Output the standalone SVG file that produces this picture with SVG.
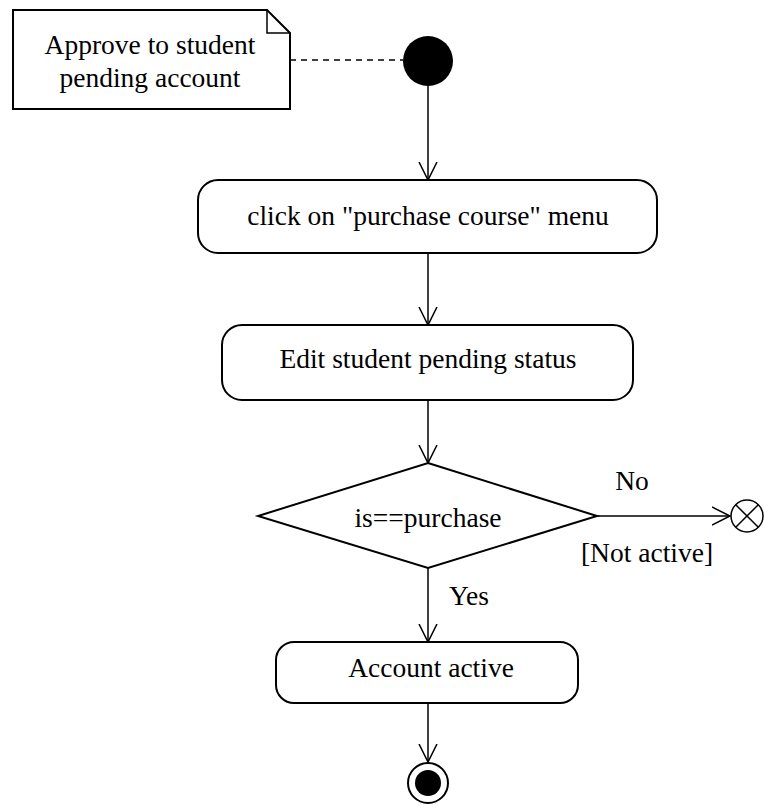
<svg xmlns="http://www.w3.org/2000/svg" width="764" height="806" viewBox="0 0 764 806">
<style>
.t{font-family:"Liberation Serif","Times New Roman",serif;font-size:27.5px;fill:#000;text-anchor:middle}
.box{fill:#fff;stroke:#000;stroke-width:2}
.ln{fill:none;stroke:#000;stroke-width:1.5}
</style>
<defs>
<marker id="open" viewBox="0 0 20 20" refX="18" refY="10" markerWidth="20" markerHeight="20" markerUnits="userSpaceOnUse" orient="auto">
<path d="M0,1 L18,10 L0,19" fill="none" stroke="#000" stroke-width="1.5"/>
</marker>
</defs>
<rect width="764" height="806" fill="#fff"/>
<g id="connectors">
<line class="ln" x1="290" y1="60" x2="403" y2="60" stroke-dasharray="6,5"/>
<line class="ln" x1="428" y1="86" x2="428" y2="180" marker-end="url(#open)"/>
<line class="ln" x1="428" y1="253" x2="428" y2="325" marker-end="url(#open)"/>
<line class="ln" x1="428" y1="400" x2="428" y2="463" marker-end="url(#open)"/>
<line class="ln" x1="597" y1="516" x2="730" y2="516" marker-end="url(#open)"/>
<line class="ln" x1="428" y1="568" x2="428" y2="642" marker-end="url(#open)"/>
<line class="ln" x1="428" y1="703" x2="428" y2="762" marker-end="url(#open)"/>
<text class="t" x="632" y="490">No</text>
<text class="t" x="647" y="562">[Not active]</text>
<text class="t" x="469" y="605">Yes</text>
</g>
<g id="note">
<path class="box" d="M13,10 L267,10 L290,33 L290,109 L13,109 Z"/>
<path class="ln" d="M267,10 L267,33 L290,33"/>
<text class="t" x="150" y="54">Approve to student</text>
<text class="t" x="150" y="87">pending account</text>
</g>
<g id="start">
<circle cx="428" cy="61" r="25" fill="#000"/>
</g>
<g id="click">
<rect class="box" x="198" y="180" width="459" height="73" rx="20"/>
<text class="t" x="428" y="225">click on "purchase course" menu</text>
</g>
<g id="edit">
<rect class="box" x="222" y="325" width="411" height="75" rx="20"/>
<text class="t" x="428" y="368">Edit student pending status</text>
</g>
<g id="decision">
<polygon class="box" points="428,463 597,516 428,568 258,516"/>
<text class="t" x="428" y="527">is==purchase</text>
</g>
<g id="active">
<rect class="box" x="276" y="642" width="302" height="61" rx="18"/>
<text class="t" x="431" y="677">Account active</text>
</g>
<g id="flowfinal">
<circle cx="747" cy="516" r="16" fill="#fff" stroke="#000" stroke-width="1.5"/>
<line class="ln" x1="735.7" y1="504.7" x2="758.3" y2="527.3"/>
<line class="ln" x1="735.7" y1="527.3" x2="758.3" y2="504.7"/>
</g>
<g id="end">
<circle cx="428" cy="783" r="20" fill="#fff" stroke="#000" stroke-width="2"/>
<circle cx="428" cy="783" r="13" fill="#000"/>
</g>
</svg>
